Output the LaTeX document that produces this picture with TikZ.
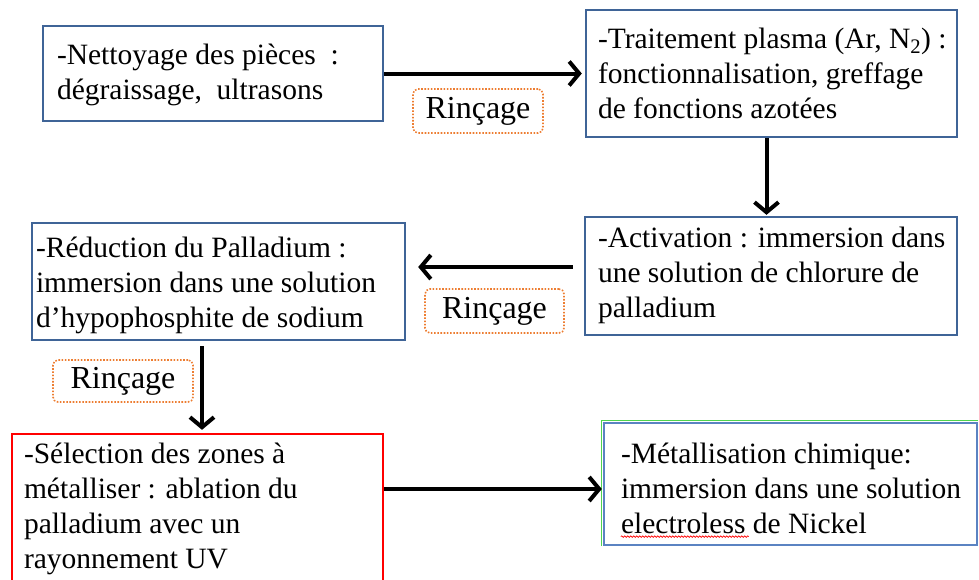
\documentclass[tikz,border=0pt]{standalone}
\usepackage{fontspec}
\setmainfont{Liberation Serif}
\usetikzlibrary{arrows.meta,decorations.pathmorphing}
\definecolor{cadre}{HTML}{3F6497}
\definecolor{cadreclair}{HTML}{5B83C2}
\definecolor{rouge}{HTML}{FF0000}
\definecolor{vert}{HTML}{4FD44F}
\definecolor{orange}{HTML}{ED7D31}
\tikzset{
  every picture/.style={line join=miter},
  % boxes of the process, text set apart and flush left
  etape/.style={draw=cadre, line width=2.4pt, inner sep=0pt},
  texte/.style={align=left, inner sep=0pt, anchor=west,
    font=\fontsize{29.5}{35}\selectfont},
  rincage/.style={draw=orange, line width=1.6pt, dash pattern=on 1.6pt off 1.6pt,
    rounded corners=5pt, inner sep=0pt, font=\fontsize{32}{36}\selectfont},
  fleche/.style={line width=4pt, -{Straight Barb[length=10pt,width=24pt]}},
}

\begin{document}
\begin{tikzpicture}[x=1pt,y=-1pt]
\useasboundingbox (0,0) rectangle (979,579);

\node[etape, minimum width=340pt, minimum height=95pt] (nett) at (213,73.5) {};
\node[etape, minimum width=371pt, minimum height=127pt] (plasma) at (771.5,73.5) {};
\node[etape, minimum width=372pt, minimum height=118pt] (activ) at (771,276) {};
\node[etape, minimum width=373pt, minimum height=117pt] (reduc) at (218.5,281.5) {};
\node[etape, draw=rouge, minimum width=371pt, minimum height=149pt] (select) at (197.5,508.5) {};
\node[etape, draw=cadreclair, minimum width=373pt, minimum height=122pt] (metal) at (790.5,484) {};
% green edge on the last box
\draw[vert, line width=1pt] ([xshift=-1.7pt]metal.south west) -- ([shift={(-1.7pt,1.7pt)}]metal.north west)
  -- ([yshift=1.7pt]metal.north east);

\node[texte] (nett-t) at ([shift={(15pt,-1pt)}]nett.west) {-Nettoyage des pièces~ :\\dégraissage,~ ultrasons};
\node[texte] (plasma-t) at ([shift={(13pt,0pt)}]plasma.west) {-Traitement plasma (Ar, N\textsubscript{2}) :\\fonctionnalisation, greffage\\de fonctions azotées};
\node[texte] (activ-t) at ([shift={(14pt,1pt)}]activ.west) {-Activation : immersion dans\\une solution de chlorure de\\palladium};
\node[texte] (reduc-t) at ([shift={(5pt,-4pt)}]reduc.west) {-Réduction du Palladium :\\immersion dans une solution\\d’hypophosphite de sodium};
\node[texte] (select-t) at ([shift={(13pt,0pt)}]select.west) {-Sélection des zones à\\métalliser : ablation du\\palladium avec un\\rayonnement UV};
\node[texte] (metal-t) at ([shift={(18pt,-4pt)}]metal.west) {-Métallisation chimique:\\immersion dans une solution\\electroless de Nickel};
\draw[rouge, line width=0.6pt, decorate, decoration={snake, amplitude=0.8pt, segment length=3pt}]
  ([shift={(0pt,-3pt)}]metal-t.south west) -- ++(128,0);

\node[rincage, minimum width=130pt, minimum height=44pt] (r1) at (478,111) {Rinçage};
\node[rincage, minimum width=139pt, minimum height=44pt] (r2) at (494.5,311) {Rinçage};
\node[rincage, minimum width=140pt, minimum height=42pt] (r3) at (123,381) {Rinçage};

\draw[fleche, shorten >=3pt] (nett) -- (plasma);
\coordinate (a2) at ([xshift=-5pt]plasma.south);
\draw[fleche, shorten >=1pt] (a2) -- (a2 |- activ.north);
\coordinate (a3) at ([yshift=9pt]activ.west);
\draw[fleche, shorten <=11pt, shorten >=12pt] (a3) -- (a3 -| reduc.east);
\coordinate (a4) at ([xshift=-16.5pt]reduc.south);
\draw[fleche, shorten <=5pt, shorten >=3pt] (a4) -- (a4 |- select.north);
\coordinate (a5) at ([yshift=19.5pt]select.east);
\draw[fleche, shorten >=1pt] (a5) -- (a5 -| metal.west);
\end{tikzpicture}
\end{document}
